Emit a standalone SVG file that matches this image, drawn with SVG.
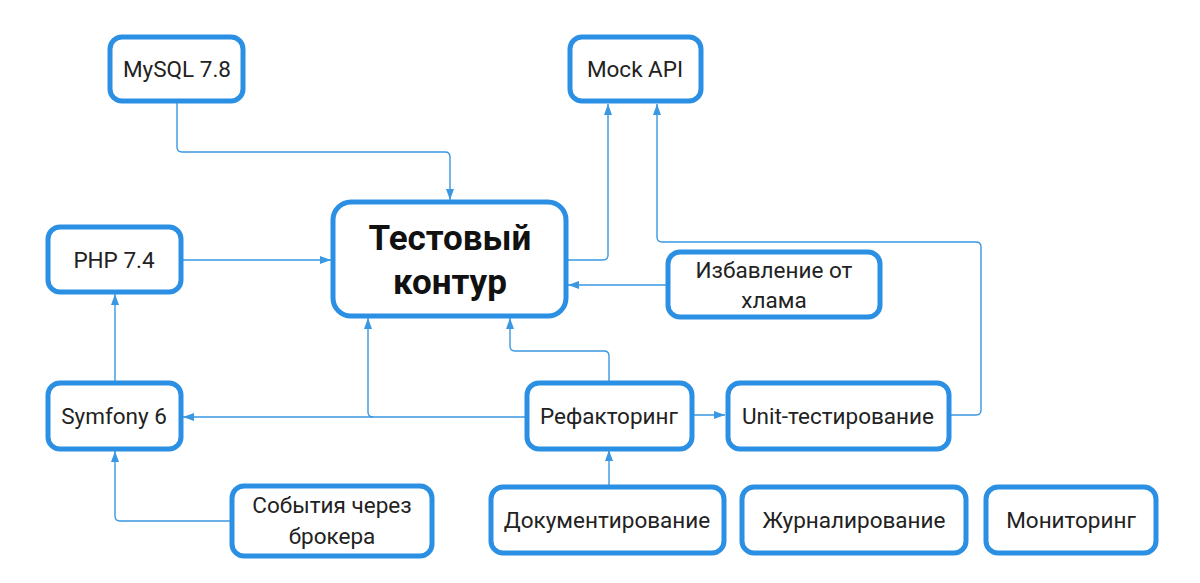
<svg xmlns="http://www.w3.org/2000/svg" width="1200" height="583" viewBox="0 0 1200 583">
<style>
.n{fill:#fff;stroke:#2b8fe3;stroke-width:5}
.t{font-family:Roboto,"Noto Sans","Liberation Sans",sans-serif;font-size:22.5px;fill:#222;text-anchor:middle;dominant-baseline:central}
.b{font-weight:bold;font-size:35px;fill:#111}
.c{fill:none;stroke:#3a97e2;stroke-width:1.4}
</style>
<defs>
<marker id="a" markerUnits="userSpaceOnUse" markerWidth="11" markerHeight="8" refX="11" refY="4" orient="auto">
<path d="M0,0 L11,4 L0,8 z" fill="#3a97e2"/>
</marker>
</defs>
<rect width="1200" height="583" fill="#fff"/>
<g id="connectors">
<path class="c" marker-end="url(#a)" d="M177,101 V147 Q177,152 182,152 H445 Q450,152 450,157 V200"/>
<path class="c" marker-end="url(#a)" d="M181,260 H331"/>
<path class="c" marker-end="url(#a)" d="M566,260 H603 Q608,260 608,255 V104"/>
<path class="c" marker-end="url(#a)" d="M948,415 H976 Q981,415 981,410 V247 Q981,242 976,242 H662 Q657,242 657,237 V104"/>
<path class="c" marker-end="url(#a)" d="M667,285 H568"/>
<path class="c" marker-end="url(#a)" d="M527,417 H183"/>
<path class="c" marker-end="url(#a)" d="M373,417 Q368,417 368,412 V318"/>
<path class="c" marker-end="url(#a)" d="M115,383 V294"/>
<path class="c" marker-end="url(#a)" d="M232,521 H120 Q115,521 115,516 V451"/>
<path class="c" marker-end="url(#a)" d="M609,383 V356 Q609,351 604,351 H515 Q510,351 510,346 V318"/>
<path class="c" marker-end="url(#a)" d="M692,415 H725"/>
<path class="c" marker-end="url(#a)" d="M609,487 V450"/>
</g>
<g id="mysql"><rect class="n" x="110" y="37" width="133" height="64" rx="12"/><text class="t" x="177" y="69">MySQL 7.8</text></g>
<g id="mockapi"><rect class="n" x="570" y="37" width="131" height="64" rx="12"/><text class="t" x="635" y="69">Mock API</text></g>
<g id="test"><rect class="n" x="333" y="202" width="233" height="114" rx="18"/><text class="t b" x="450" y="238">Тестовый</text><text class="t b" x="450" y="282">контур</text></g>
<g id="php"><rect class="n" x="48" y="227" width="133" height="65" rx="12"/><text class="t" x="114" y="260">PHP 7.4</text></g>
<g id="cleanup"><rect class="n" x="668" y="252" width="212" height="65" rx="12"/><text class="t" x="774" y="270">Избавление от</text><text class="t" x="774" y="300">хлама</text></g>
<g id="symfony"><rect class="n" x="48" y="383" width="133" height="66" rx="12"/><text class="t" x="114" y="416">Symfony 6</text></g>
<g id="refactoring"><rect class="n" x="527" y="383" width="165" height="66" rx="12"/><text class="t" x="609" y="416">Рефакторинг</text></g>
<g id="unit"><rect class="n" x="728" y="383" width="221" height="66" rx="12"/><text class="t" x="838" y="416">Unit-тестирование</text></g>
<g id="events"><rect class="n" x="232" y="486" width="200" height="70" rx="12"/><text class="t" x="332" y="505">События через</text><text class="t" x="332" y="536">брокера</text></g>
<g id="docs"><rect class="n" x="491" y="487" width="233" height="66" rx="12"/><text class="t" x="607" y="520">Документирование</text></g>
<g id="logging"><rect class="n" x="742" y="487" width="224" height="66" rx="12"/><text class="t" x="854" y="520">Журналирование</text></g>
<g id="monitoring"><rect class="n" x="986" y="487" width="170" height="66" rx="12"/><text class="t" x="1071" y="520">Мониторинг</text></g>
</svg>
